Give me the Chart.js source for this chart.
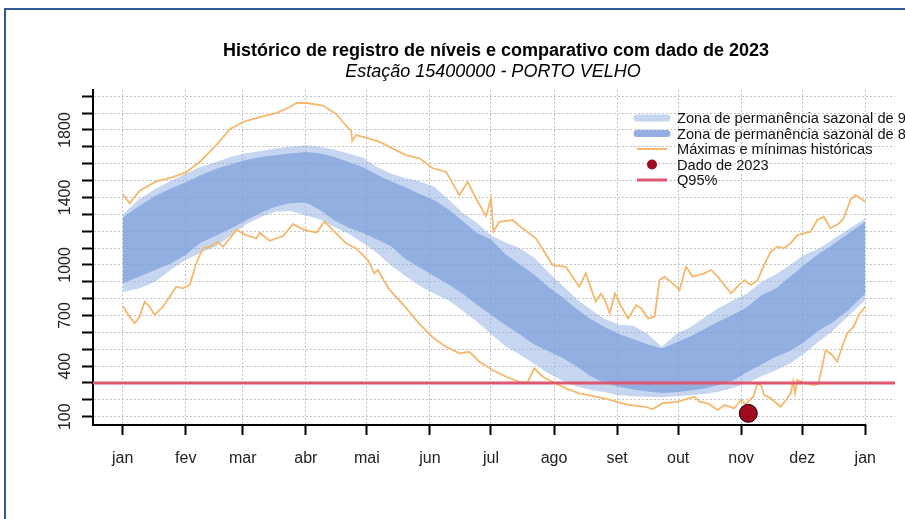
<!DOCTYPE html>
<html>
<head>
<meta charset="utf-8">
<script src="https://cdn.jsdelivr.net/npm/chart.js@4.4.1/dist/chart.umd.min.js"></script>
<style>
  html, body { margin: 0; padding: 0; background: #fff; }
  #wrap { position: relative; width: 905px; height: 519px; overflow: hidden; }
  #frame { position: absolute; left: 4px; top: 8px; width: 2000px; height: 2000px;
           border-left: 2px solid #2f5a96; border-top: 2px solid #2f5a96; }
  canvas { position: absolute; left: 0; top: 0; }
</style>
</head>
<body>
<div id="wrap">
  <canvas id="chart" width="905" height="519"></canvas>
  <div id="frame"></div>
</div>
<script>
// axis layout
const monthDays = [0, 31, 59, 90, 120, 151, 181, 212, 243, 273, 304, 334, 365];
const monthLabels = ['jan', 'fev', 'mar', 'abr', 'mai', 'jun', 'jul', 'ago', 'set', 'out', 'nov', 'dez', 'jan'];
const yTickValues = [100, 200, 300, 400, 500, 600, 700, 800, 900, 1000, 1100, 1200, 1300, 1400, 1500, 1600, 1700, 1800, 1900, 2000];
const yLabelValues = [100, 400, 700, 1000, 1400, 1800];
const X_MIN = -14.6, X_MAX = 379.6;
const Y_MIN = 51, Y_MAX = 2037;

// seasonal bands (day of year)
const bandDays = [0, 8, 16, 24, 31, 38, 46, 53, 60, 68, 75, 82, 90, 97, 104, 111, 118, 125, 132, 139,
  146, 153, 160, 167, 174, 181, 188, 195, 202, 209, 216, 223, 230, 237, 244, 251, 258, 265, 272, 279,
  286, 293, 300, 307, 314, 321, 328, 335, 342, 349, 356, 365];
const outerHi = [1300, 1390, 1450, 1500, 1540, 1580, 1610, 1640, 1660, 1675, 1690, 1700, 1710, 1700, 1685, 1660, 1635, 1580, 1540, 1515,
  1495, 1465, 1390, 1310, 1250, 1175, 1135, 1100, 1045, 960, 880, 800, 735, 680, 645, 640, 590, 515, 590, 630,
  690, 745, 790, 830, 900, 945, 1000, 1060, 1095, 1150, 1205, 1276];
const innerHi = [1280, 1350, 1410, 1455, 1490, 1530, 1570, 1595, 1620, 1640, 1650, 1660, 1670, 1660, 1640, 1610, 1580, 1535, 1495, 1460,
  1420, 1385, 1330, 1260, 1190, 1150, 1065, 1005, 945, 870, 810, 740, 680, 630, 590, 560, 530, 505, 540, 575,
  620, 665, 705, 750, 820, 860, 930, 1000, 1065, 1120, 1180, 1256];
const innerLo = [891, 930, 970, 1010, 1060, 1130, 1175, 1215, 1260, 1310, 1345, 1365, 1370, 1325, 1265, 1220, 1190, 1150, 1110, 1035,
  985, 935, 885, 830, 765, 705, 645, 590, 530, 490, 450, 400, 340, 300, 278, 262, 250, 240, 245, 255,
  268, 290, 315, 365, 410, 455, 490, 545, 610, 660, 725, 831];
const outerLo = [840, 860, 900, 975, 1030, 1070, 1110, 1175, 1235, 1285, 1315, 1320, 1295, 1270, 1225, 1185, 1130, 1070, 995, 935,
  875, 830, 790, 730, 665, 590, 520, 470, 415, 360, 315, 280, 258, 245, 228, 222, 218, 215, 222, 228,
  235, 248, 270, 300, 340, 375, 415, 475, 545, 610, 690, 792];

// historical max / min
const maxDays = [0, 3.4, 8.3, 16.5, 24.7, 31.3, 37.8, 46, 52.7, 59.6, 68.9, 75.4, 82, 85.3, 90.5, 98.3, 104.9, 109.8, 112.3, 112.8,
  114.7, 120.9, 126.2, 131.1, 139.3, 145.8, 152.4, 158.9, 165.5, 169.6, 173.6, 178.6, 181, 182.2, 185.1, 191.6, 196.5, 203.1, 211.3, 217.8,
  224.4, 227.6, 232.5, 235, 237, 239.4, 241.9, 245.1, 248.4, 252.5, 254.9, 258.2, 261.4, 263.9, 266.3, 270.4, 273.7, 276.9, 280.2, 285.9,
  289.2, 292.5, 299, 302.2, 305.5, 308.8, 312, 315.3, 318.5, 321.8, 325, 328.3, 331.6, 334.8, 338.1, 341.4, 344.6, 347.9, 352, 354.4,
  357.7, 360.1, 362.6, 365];
const maxVals = [1420, 1365, 1440, 1495, 1520, 1550, 1610, 1710, 1805, 1850, 1880, 1900, 1935, 1960, 1960, 1945, 1895, 1825, 1795, 1735,
  1770, 1750, 1730, 1700, 1651, 1632, 1573, 1552, 1414, 1493, 1395, 1290, 1395, 1197, 1256, 1266, 1217, 1158, 999, 989,
  871, 950, 782, 830, 792, 713, 831, 752, 683, 762, 742, 683, 693, 910, 930, 891, 851, 989, 930, 950,
  970, 930, 831, 871, 910, 881, 910, 1000, 1078, 1108, 1098, 1128, 1177, 1187, 1197, 1266, 1286, 1217, 1246, 1276,
  1385, 1414, 1395, 1375];
const minDays = [0, 3.4, 5.9, 8.3, 10.8, 13.3, 15.7, 19.8, 23.1, 26.3, 29.6, 32.9, 36.2, 39.4, 42.7, 46.8, 49.3, 55.9, 60.8, 65.7,
  67.3, 72.2, 78.8, 83.7, 88.6, 95.1, 99.2, 104.9, 109.8, 114.7, 120.5, 123.7, 125.4, 131, 139.3, 145.8, 152.4, 158.9, 165.5, 170.4,
  175.3, 181.8, 188.4, 194.9, 198.9, 202.3, 206.4, 211.3, 217.8, 224.4, 232.5, 240.2, 246.8, 253.3, 257, 260.3, 265.2, 272.9, 281, 283.5,
  287.6, 292.5, 295.7, 300.6, 303.9, 306, 310, 312, 313.7, 315.3, 318.5, 323.4, 326, 328.3, 329.5, 330.5, 331.6, 334.8, 339.7, 341.9,
  343.8, 345.5, 348.7, 351.2, 353.6, 356.1, 359.3, 361.8, 365];
const minVals = [756, 693, 654, 693, 782, 752, 703, 752, 811, 871, 861, 881, 1010, 1098, 1108, 1137, 1108, 1207, 1177, 1157,
  1191, 1143, 1171, 1242, 1211, 1191, 1256, 1187, 1128, 1098, 1029, 950, 970, 855, 745, 650, 570, 515, 476, 485,
  426, 377, 337, 307, 302, 387, 337, 307, 268, 239, 219, 199, 175, 163, 159, 144, 179, 189, 219, 189,
  179, 140, 169, 150, 199, 175, 219, 298, 288, 229, 209, 160, 199, 238, 308, 238, 318, 302, 288, 294,
  397, 495, 466, 426, 515, 594, 634, 703, 752];

// 2023 observation and Q95 reference
const obsDays = [307.5];
const obsVals = [120];
const q95 = 300;

const titleText = 'Histórico de registro de níveis e comparativo com dado de 2023';
const subtitleText = 'Estação 15400000 - PORTO VELHO';
const legendLabels = ['Zona de permanência sazonal de 90%', 'Zona de permanência sazonal de 80%',
  'Máximas e mínimas históricas', 'Dado de 2023', 'Q95%'];

const outerFill = 'rgba(141,173,225,0.5)';
const innerFill = 'rgba(112,149,217,0.6)';
const lightSym = '#c6d6f0';
const darkSym = '#93afe1';
const orange = '#f5b86c';
const dotRed = '#9e0b1f';
const q95Red = '#e0566e';

const toXY = (xs, ys) => xs.map((x, i) => ({ x: x, y: ys[i] }));
const FONT = '"Liberation Sans", Arial, sans-serif';

const decor = {
  id: 'decor',
  afterDraw(chart) {
    const ctx = chart.ctx;
    const xs = chart.scales.x, ys = chart.scales.y;
    const area = chart.chartArea;
    ctx.save();

    // bottom axis line, first to last tick
    ctx.strokeStyle = '#000';
    ctx.lineWidth = 2;
    ctx.beginPath();
    ctx.moveTo(area.left, area.bottom);
    ctx.lineTo(xs.getPixelForValue(monthDays[monthDays.length - 1]) + 1, area.bottom);
    ctx.stroke();

    // rotated y labels
    ctx.fillStyle = '#222';
    ctx.font = '16px ' + FONT;
    ctx.textAlign = 'center';
    ctx.textBaseline = 'alphabetic';
    yLabelValues.forEach(v => {
      ctx.save();
      ctx.translate(70, ys.getPixelForValue(v));
      ctx.rotate(-Math.PI / 2);
      ctx.fillText(String(v), 0, 0);
      ctx.restore();
    });

    // titles
    const cx = (area.left + area.right) / 2;
    ctx.fillStyle = '#000';
    ctx.font = 'bold 18px ' + FONT;
    ctx.fillText(titleText, cx + 2, 56);
    ctx.font = 'italic 18px ' + FONT;
    ctx.fillText(subtitleText, cx - 1, 77);

    // legend
    const lx0 = 637, lx1 = 667, tx = 677;
    const rows = [118, 133.5, 149, 164.5, 180];
    ctx.lineCap = 'round';
    const seg = (y, color, w) => {
      ctx.strokeStyle = color; ctx.lineWidth = w;
      ctx.beginPath(); ctx.moveTo(lx0, y); ctx.lineTo(lx1, y); ctx.stroke();
    };
    seg(rows[0], lightSym, 7);
    seg(rows[1], darkSym, 7);
    ctx.lineCap = 'butt';
    seg(rows[2], orange, 2);
    ctx.fillStyle = dotRed;
    ctx.beginPath(); ctx.arc((lx0 + lx1) / 2, rows[3], 5, 0, Math.PI * 2); ctx.fill();
    seg(rows[4], q95Red, 3);
    ctx.fillStyle = '#111';
    ctx.font = '14.6px ' + FONT;
    ctx.textAlign = 'left';
    ctx.textBaseline = 'middle';
    legendLabels.forEach((t, i) => ctx.fillText(t, tx, rows[i] + 1));
    ctx.restore();
  }
};

new Chart(document.getElementById('chart'), {
  type: 'line',
  data: {
    datasets: [
      { label: 'Dado de 2023', data: toXY(obsDays, obsVals), showLine: false,
        pointRadius: 9, pointBackgroundColor: dotRed, pointBorderColor: '#200000', pointBorderWidth: 1 },
      { label: 'Q95%', data: [{ x: X_MIN, y: q95 }, { x: X_MAX, y: q95 }],
        borderColor: q95Red, borderWidth: 3, pointRadius: 0 },
      { label: 'Máximas', data: toXY(maxDays, maxVals), borderColor: orange, borderWidth: 1.8, pointRadius: 0 },
      { label: 'Mínimas', data: toXY(minDays, minVals), borderColor: orange, borderWidth: 1.8, pointRadius: 0 },
      { label: 'inner hi', data: toXY(bandDays, innerHi), borderColor: 'transparent', borderWidth: 0,
        pointRadius: 0, backgroundColor: innerFill, fill: { target: 5 } },
      { label: 'inner lo', data: toXY(bandDays, innerLo), borderColor: 'transparent', borderWidth: 0,
        pointRadius: 0, fill: false },
      { label: 'outer hi', data: toXY(bandDays, outerHi), borderColor: 'transparent', borderWidth: 0,
        pointRadius: 0, backgroundColor: outerFill, fill: { target: 7 } },
      { label: 'outer lo', data: toXY(bandDays, outerLo), borderColor: 'transparent', borderWidth: 0,
        pointRadius: 0, fill: false }
    ]
  },
  options: {
    responsive: false,
    animation: false,
    events: [],
    layout: { padding: { top: 90, right: 7, left: 0, bottom: 0 } },
    plugins: {
      legend: { display: false },
      title: { display: false },
      tooltip: { enabled: false }
    },
    scales: {
      x: {
        type: 'linear',
        min: X_MIN,
        max: X_MAX,
        afterBuildTicks: s => { s.ticks = monthDays.map(v => ({ value: v })); },
        afterFit: s => { s.height = 519 - 425; },
        ticks: {
          autoSkip: false, maxRotation: 0, minRotation: 0, padding: 14, color: '#222',
          font: { family: FONT, size: 16 },
          callback: v => monthLabels[monthDays.indexOf(v)]
        },
        grid: { color: '#c4c4c4', lineWidth: 1, tickColor: '#000', tickWidth: 2, tickLength: 10 },
        border: { display: false, dash: [2, 2] }
      },
      y: {
        type: 'linear',
        min: Y_MIN,
        max: Y_MAX,
        afterBuildTicks: s => { s.ticks = yTickValues.map(v => ({ value: v })); },
        afterFit: s => { s.width = 93; },
        ticks: { display: false },
        grid: { color: '#c4c4c4', lineWidth: 1, tickColor: '#000', tickWidth: 2, tickLength: 11 },
        border: { display: true, color: '#000', width: 2, dash: [2, 2] }
      }
    }
  },
  plugins: [decor]
});
</script>
</body>
</html>
